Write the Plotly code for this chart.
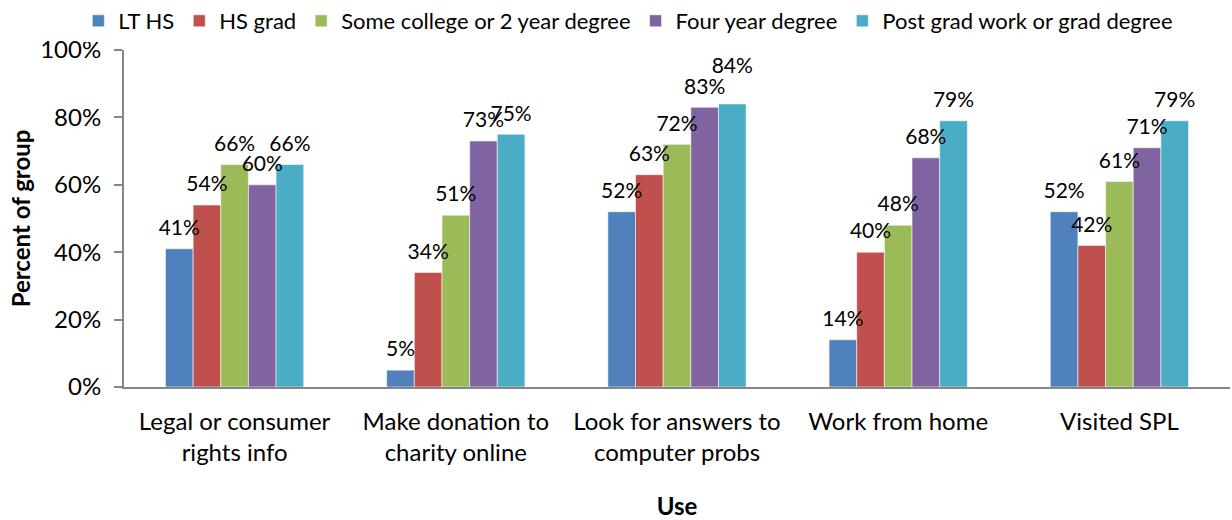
import plotly.graph_objects as go

# Uses of library computers, by education level (percent of each group)
categories = [
    "Legal or consumer<br>rights info",
    "Make donation to<br>charity online",
    "Look for answers to<br>computer probs",
    "Work from home",
    "Visited SPL",
]
series_names = [
    "LT HS",
    "HS grad",
    "Some college or 2 year degree",
    "Four year degree",
    "Post grad work or grad degree",
]
lt_hs = [41, 5, 52, 14, 52]
hs_grad = [54, 34, 63, 40, 42]
some_college = [66, 51, 72, 48, 61]
four_year = [60, 73, 83, 68, 71]
post_grad = [66, 75, 84, 79, 79]

y_ticks = [0, 20, 40, 60, 80, 100]

series_values = [lt_hs, hs_grad, some_college, four_year, post_grad]
colors = ["#4F81BD", "#C0504D", "#9BBB59", "#8064A2", "#4BACC6"]

FONT = "Lato"
FS = 24
LABEL_FS = 21
LEGEND_FS = 22
GAP = 0.375

# invisible marker sizes that set how far each value label sits above its bar;
# the top label of the third group is lifted so it clears its neighbour
label_lift = [[12] * len(categories) for _ in series_values]
label_lift[4][2] = 40

fig = go.Figure()
for i, (name, vals, col) in enumerate(zip(series_names, series_values, colors)):
    fig.add_trace(go.Bar(
        name=name,
        x=categories,
        y=vals,
        offsetgroup=str(i),
        marker=dict(color=col, line=dict(color="rgba(255,255,255,0.55)", width=1)),
    ))
# value labels: text-only scatter grouped like the bars
for i, vals in enumerate(series_values):
    fig.add_trace(go.Scatter(
        x=categories,
        y=vals,
        offsetgroup=str(i),
        mode="markers+text",
        marker=dict(size=label_lift[i], opacity=0),
        text=[f"{v}%" for v in vals],
        textposition="top center",
        textfont=dict(family=FONT, size=LABEL_FS, color="black"),
        showlegend=False,
        hoverinfo="skip",
        cliponaxis=False,
    ))

axis_grey = "#868686"
fig.update_layout(
    width=1232,
    height=520,
    margin=dict(l=124, r=2, t=50, b=133, autoexpand=False),
    paper_bgcolor="white",
    plot_bgcolor="white",
    barmode="group",
    bargap=GAP,
    bargroupgap=0,
    scattermode="group",
    scattergap=GAP,
    font=dict(family=FONT, size=FS, color="black"),
    showlegend=True,
    legend=dict(
        orientation="h",
        xref="container",
        yref="container",
        x=0.51,
        xanchor="center",
        y=1.0,
        yanchor="top",
        font=dict(family=FONT, size=LEGEND_FS),
        itemwidth=30,
        tracegroupgap=0,
    ),
    xaxis=dict(
        showline=True,
        linecolor=axis_grey,
        linewidth=2,
        ticks="",
        ticklabelstandoff=12,
        title=dict(text="<b>Use</b>", font=dict(family=FONT, size=FS), standoff=39),
        tickfont=dict(family=FONT, size=FS),
    ),
    yaxis=dict(
        range=[0, 100],
        tickvals=y_ticks,
        ticktext=[f"{t}%" for t in y_ticks],
        showline=True,
        linecolor=axis_grey,
        linewidth=2,
        ticks="outside",
        ticklen=8,
        tickwidth=2,
        tickcolor=axis_grey,
        showgrid=False,
        zeroline=False,
        ticklabelstandoff=8,
        title=dict(text="<b>Percent of group</b>", font=dict(family=FONT, size=FS), standoff=3),
        tickfont=dict(family=FONT, size=FS),
    ),
)

fig.write_html("out.html")
